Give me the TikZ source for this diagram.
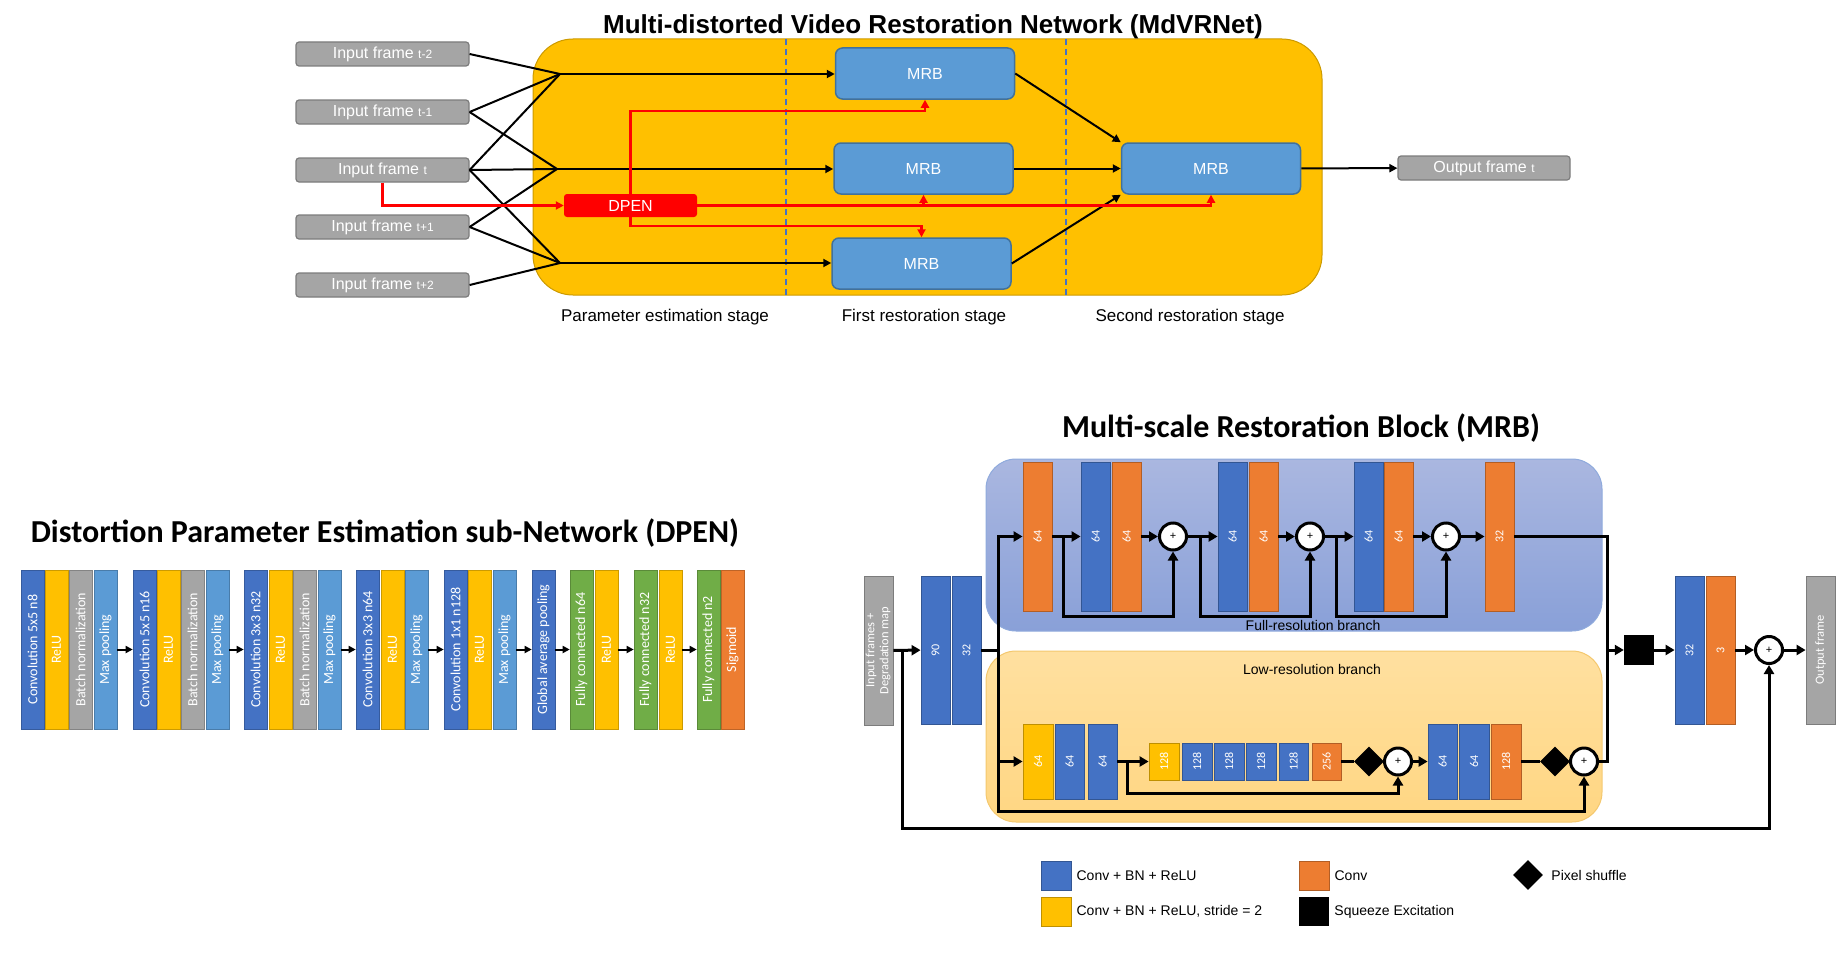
\documentclass[tikz,border=0pt]{standalone}
\usepackage{fontspec}
\setmainfont{Liberation Sans}
\newfontfamily\calibri{Carlito}
\usepackage{graphicx}
\usetikzlibrary{arrows.meta,shapes.geometric,positioning}

\definecolor{convblue}{HTML}{4472C4}
\definecolor{reluyel}{HTML}{FFC000}
\definecolor{bngray}{HTML}{A5A5A5}
\definecolor{poolblue}{HTML}{5B9BD5}
\definecolor{fcgreen}{HTML}{70AD47}
\definecolor{sigorange}{HTML}{ED7D31}
\definecolor{mrbedge}{HTML}{41719C}
\definecolor{fulltop}{RGB}{170,183,224}
\definecolor{fullbot}{RGB}{137,160,216}
\definecolor{fulledge}{RGB}{143,170,220}
\definecolor{lowtop}{RGB}{255,224,160}
\definecolor{lowbot}{RGB}{255,214,130}
\definecolor{lowedge}{RGB}{244,200,110}
\newcommand{\setfs}[1]{\fontsize{#1}{#1}\selectfont}

\begin{document}
\begin{tikzpicture}[x=1pt,y=-1pt,
      frame/.style={draw=bngray!75!black,fill=bngray,rounded corners=3pt,line width=1.2pt,minimum width=173pt,minimum height=24pt,inner sep=0pt,text=white,font=\setfs{16}},
      mrb/.style  ={draw=mrbedge,fill=poolblue,rounded corners=7pt,line width=1.5pt,minimum width=179pt,minimum height=51pt,text=white,font=\setfs{16}},
      dpen/.style ={fill=red,rounded corners=3pt,minimum width=133pt,minimum height=23pt,inner sep=0pt,text=white,font=\setfs{16}},
      stage/.style={anchor=base,font=\setfs{17}},
      wire/.style ={line width=2pt},
      rwire/.style={line width=2.2pt,red},
      tarr/.style ={-{Triangle[length=8pt,width=8pt]}},
      lay/.style  ={draw=#1!80!black,fill=#1,line width=0.6pt,minimum width=23pt,minimum height=159pt,inner sep=0pt,text=white,font=\calibri\setfs{14}},
      darr/.style ={line width=2pt,-{Triangle[length=7pt,width=7pt]}},
      blk/.style  ={draw=#1!75!black,fill=#1,line width=0.8pt,inner sep=0pt,text=white,font=\calibri\setfs{12}},
      addn/.style ={circle,draw,fill=white,line width=3pt,minimum size=27pt,inner sep=0pt,font=\setfs{11}},
      shuf/.style ={diamond,fill=black,minimum width=30pt,minimum height=30pt,inner sep=0pt},
      mw/.style   ={line width=3pt},
      marr/.style ={-{Triangle[length=9pt,width=10pt]}},
      brl/.style  ={font=\setfs{14}},
      lgt/.style  ={font=\setfs{14},inner sep=0pt},
      ttl/.style  ={anchor=base,font=\calibri\bfseries\setfs{32}}]
      \useasboundingbox (0,0) rectangle (1841,958);

      % ---------------- MdVRNet ----------------
      \draw[draw=reluyel!80!black,fill=reluyel,line width=1pt,rounded corners=40pt] (533,39) rectangle (1322,295);
      \draw[convblue,dash pattern=on 6pt off 4pt,line width=1.3pt] (786,39) -- (786,295);
      \draw[convblue,dash pattern=on 6pt off 4pt,line width=1.3pt] (1066,39) -- (1066,295);
      \node[anchor=base,font=\bfseries\setfs{26}] (tnet) at (933,34) {Multi-distorted Video Restoration Network (MdVRNet)};

      % input frames
      \foreach \nm/\sub/\yy in {fa/t-2/54, fb/t-1/112, fc/t/170, fd/t+1/227, fe/t+2/285}
        \node[frame] (\nm) at (382.5,\yy) {Input frame {\setfs{12}\sub}};
      \coordinate (ja) at (560,74);
      \coordinate (jb) at (557,169);
      \coordinate (jc) at (560,263);
      \foreach \a/\b in {fa/ja, fb/ja, fc/ja, fb/jb, fc/jb, fd/jb, fc/jc, fd/jc, fe/jc}
        \draw[wire] (\a.east) -- (\b);

      % restoration blocks
      \node[mrb] (ma) at (925,73.5) {MRB};
      \node[mrb] (mb) at (923.5,168.5) {MRB};
      \node[mrb] (mc) at (921.5,263.5) {MRB};
      \node[mrb] (md) at (1211,168.5) {MRB};
      \node[dpen] (dp) at (630.5,205.5) {DPEN};
      \node[frame,minimum width=172pt] (fo) at (1484,168) {Output frame {\setfs{12}t}};

      \draw[wire,tarr] (ja) -- (ja -| ma.west);
      \draw[wire,tarr] (jb) -- (jb -| mb.west);
      \draw[wire,tarr] (jc) -- (jc -| mc.west);
      \draw[wire,tarr] (ma.east) -- (md.north west);
      \draw[wire,tarr] (mb) -- (md);
      \draw[wire,tarr] (mc.east) -- (md.south west);
      \draw[wire,tarr] (md) -- (fo);

      % degradation parameters (red)
      \coordinate (rtop) at (0,111);
      \coordinate (rbot) at (0,226);
      \draw[rwire,tarr] (fc.south) |- (dp.west);
      \draw[rwire,tarr] (dp.east) -| (md.south);
      \draw[rwire,tarr] (mb.south |- dp.east) -- (mb.south);
      \draw[rwire,tarr] (dp.north) -- (dp.north |- rtop) -| (ma.south);
      \draw[rwire,tarr] (dp.south) -- (dp.south |- rbot) -| (mc.north);

      \node[stage] (sa) at (665,321) {Parameter estimation stage};
      \node[stage] (sb) at (924,321) {First restoration stage};
      \node[stage] (sc) at (1190,321) {Second restoration stage};

      % ---------------- DPEN ----------------
      \node[ttl] (tdp) at (385,542) {Distortion Parameter Estimation sub-Network (DPEN)};
      \foreach \nm/\xl/\col/\txt in {dl1/21/convblue/Convolution 5x5 n8, dl2/45/reluyel/ReLU, dl3/69/bngray/Batch normalization, dl4/94/poolblue/Max pooling,
          dl5/133/convblue/Convolution 5x5 n16, dl6/157/reluyel/ReLU, dl7/181/bngray/Batch normalization, dl8/206/poolblue/Max pooling,
          dl9/244/convblue/Convolution 3x3 n32, dl10/269/reluyel/ReLU, dl11/293/bngray/Batch normalization, dl12/318/poolblue/Max pooling,
          dl13/356/convblue/Convolution 3x3 n64, dl14/381/reluyel/ReLU, dl15/405/poolblue/Max pooling,
          dl16/444/convblue/Convolution 1x1 n128, dl17/468/reluyel/ReLU, dl18/493/poolblue/Max pooling,
          dl19/532/convblue/Global average pooling,
          dl20/570/fcgreen/Fully connected n64, dl21/595/reluyel/ReLU,
          dl22/634/fcgreen/Fully connected n32, dl23/659/reluyel/ReLU,
          dl24/697/fcgreen/Fully connected n2, dl25/721/sigorange/Sigmoid}
        \node[lay=\col] (\nm) at (\xl+11.5,649.5) {\rotatebox{90}{\txt}};
      \foreach \a/\b in {dl4/dl5, dl8/dl9, dl12/dl13, dl15/dl16, dl18/dl19, dl19/dl20, dl21/dl22, dl23/dl24}
        \draw[darr] (\a) -- (\b);

      % ---------------- MRB ----------------
      \node[ttl] (tmrb) at (1301,437) {Multi-scale Restoration Block (MRB)};
      \draw[draw=fulledge,top color=fulltop,bottom color=fullbot,line width=1pt,rounded corners=30pt] (986,459) rectangle (1602,631);
      \draw[draw=lowedge,top color=lowtop,bottom color=lowbot,line width=1pt,rounded corners=30pt] (986,651) rectangle (1602,822);
      \node[brl] (lfull) at (1313,625) {Full-resolution branch};
      \node[brl] (llow) at (1312,669) {Low-resolution branch};

      % Macro: block from its left, right, top and bottom edges
      \newcommand{\mblk}[7]{% name, left, right, top, bottom, colour, label
        \node[blk=#6,minimum width=#3pt-#2pt,minimum height=#5pt-#4pt] (#1) at ({(#2+#3)/2},{(#4+#5)/2}) {\rotatebox{90}{#7}};
      }

      \mblk{gin}{864}{893}{576}{725}{bngray}{\fontsize{12.5}{14}\selectfont\begin{tabular}{@{}c@{}}Input frames +\\Degradation map\end{tabular}}
      \mblk{b90}{921}{950}{576}{724}{convblue}{90}
      \mblk{b32}{952}{981}{576}{724}{convblue}{32}

      % full resolution
      \mblk{fa1}{1023}{1052}{462}{611}{sigorange}{64}
      \mblk{fb1}{1081}{1110}{462}{611}{convblue}{64}
      \mblk{fc1}{1112}{1141}{462}{611}{sigorange}{64}
      \node[addn] (p1) at (1173,536.5) {+};
      \mblk{fd1}{1218}{1247}{462}{611}{convblue}{64}
      \mblk{fe1}{1249}{1278}{462}{611}{sigorange}{64}
      \node[addn] (p2) at (1310,536.5) {+};
      \mblk{ff1}{1354}{1383}{462}{611}{convblue}{64}
      \mblk{fg1}{1384}{1413}{462}{611}{sigorange}{64}
      \node[addn] (p3) at (1446,536.5) {+};
      \mblk{fh1}{1485}{1514}{462}{611}{sigorange}{32}

      % low resolution
      \mblk{la1}{1023}{1053}{724}{799}{reluyel}{64}
      \mblk{la2}{1055}{1084}{724}{799}{convblue}{64}
      \mblk{la3}{1088}{1117}{724}{799}{convblue}{64}
      \mblk{ls1}{1149}{1179}{743}{780}{reluyel}{128}
      \mblk{ls2}{1182}{1212}{743}{780}{convblue}{128}
      \mblk{ls3}{1214}{1244}{743}{780}{convblue}{128}
      \mblk{ls4}{1246}{1276}{743}{780}{convblue}{128}
      \mblk{ls5}{1279}{1308}{743}{780}{convblue}{128}
      \mblk{ls6}{1312}{1341}{743}{780}{sigorange}{256}
      \node[shuf] (ps1) at (1369,761.5) {};
      \node[addn] (q1) at (1398,761.5) {+};
      \mblk{lb1}{1428}{1457}{724}{799}{convblue}{64}
      \mblk{lb2}{1459}{1489}{724}{799}{convblue}{64}
      \mblk{lb3}{1491}{1521}{724}{799}{sigorange}{128}
      \node[shuf] (ps2) at (1555,761.5) {};
      \node[addn] (q2) at (1584,761.5) {+};

      % output part
      \node[fill=black,minimum width=30pt,minimum height=30pt,inner sep=0pt] (se) at (1639,650) {};
      \mblk{o32}{1675}{1704}{576}{724}{convblue}{32}
      \mblk{o3}{1706}{1735}{576}{724}{sigorange}{3}
      \node[addn] (res) at (1769,650) {+};
      \mblk{gout}{1806}{1835}{576}{724}{bngray}{\setfs{12.5}Output frame}

      % connections
      \coordinate (skin) at (902,650);
      \coordinate (trk) at (998,650);
      \coordinate (mrg) at (1607,650);
      \coordinate (frail) at (0,616);
      \coordinate (lrail) at (0,793);
      \coordinate (rail2) at (0,811);
      \coordinate (rail3) at (0,828);
      \coordinate (s1) at (1063,536.5);
      \coordinate (s2) at (1200,536.5);
      \coordinate (s3) at (1336,536.5);
      \coordinate (s4) at (1127,761.5);
      \begin{scope}[mw,line join=miter]
        \draw[marr] (gin) -- (b90);
        \draw[marr] (skin) -- (skin |- rail3) -| (res.south);
        \draw (b32) -- (trk);
        \draw[marr] (trk) |- (fa1.west);
        \draw[marr] (trk) |- (la1.west);
        \draw[marr] (trk) -- (trk |- rail2) -| (q2.south);
        % full resolution path
        \draw[marr] (fa1) -- (fb1);
        \draw[marr] (s1) -- (s1 |- frail) -| (p1.south);
        \draw[marr] (fc1) -- (p1);
        \draw[marr] (p1) -- (fd1);
        \draw[marr] (s2) -- (s2 |- frail) -| (p2.south);
        \draw[marr] (fe1) -- (p2);
        \draw[marr] (p2) -- (ff1);
        \draw[marr] (s3) -- (s3 |- frail) -| (p3.south);
        \draw[marr] (fg1) -- (p3);
        \draw[marr] (p3) -- (fh1);
        % low resolution path
        \draw[marr] (la3) -- (ls1);
        \draw[marr] (s4) -- (s4 |- lrail) -| (q1.south);
        \draw (ls6) -- (ps1);
        \draw[marr] (q1) -- (lb1);
        \draw (lb3) -- (ps2);
        % merge and output
        \draw (fh1) -| (mrg);
        \draw (q2) -| (mrg);
        \draw[marr] (mrg) -- (se);
        \draw[marr] (se) -- (o32);
        \draw[marr] (o3) -- (res);
        \draw[marr] (res) -- (gout);
      \end{scope}

      % legend
      \node[blk=convblue,minimum width=30pt,minimum height=29pt] (kconv) at (1056,875.5) {};
      \node[lgt,right=5pt of kconv] (tconv) {Conv + BN + ReLU};
      \node[blk=reluyel,minimum width=30pt,minimum height=29pt] (kstr) at (1056,911.5) {};
      \node[lgt,right=5pt of kstr] (tstr) {Conv + BN + ReLU, stride = 2};
      \node[blk=sigorange,minimum width=30pt,minimum height=29pt] (kcv) at (1314,875.5) {};
      \node[lgt,right=5pt of kcv] (tcv) {Conv};
      \node[fill=black,minimum width=30pt,minimum height=29pt,inner sep=0pt] (kse) at (1314,911.5) {};
      \node[lgt,right=5pt of kse] (tse) {Squeeze Excitation};
      \node[shuf] (kps) at (1528,875) {};
      \node[lgt,right=8pt of kps] (tps) {Pixel shuffle};
  \end{tikzpicture}
\end{document}
